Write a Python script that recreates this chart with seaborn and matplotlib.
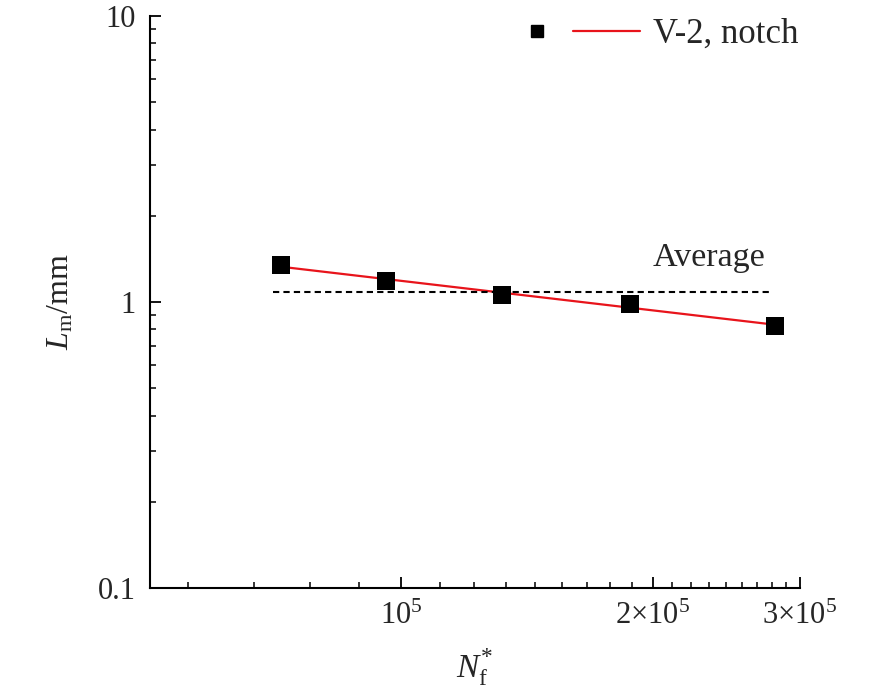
import numpy as np
import matplotlib.pyplot as plt
import seaborn as sns
from matplotlib.ticker import FixedLocator, NullFormatter
from matplotlib.lines import Line2D
from matplotlib.legend_handler import HandlerTuple

# data
nf = [71700, 95960, 132000, 187800, 279800]   # N_f*
lm = [1.343, 1.181, 1.055, 0.984, 0.822]      # L_m (mm)
series_label = "V-2, notch"
xtick_vals = [1e5, 2e5, 3e5]
xtick_text = [r"$10^5$", r"$2{\times}10^5$", r"$3{\times}10^5$"]
ytick_vals = [0.1, 1, 10]
ytick_text = ["0.1", "1", "10"]

sns.set_theme(style="ticks")
plt.rcParams["font.family"] = ["Liberation Serif", "DejaVu Serif"]
plt.rcParams["mathtext.fontset"] = "custom"
plt.rcParams["mathtext.rm"] = "Liberation Serif"
plt.rcParams["mathtext.it"] = "Liberation Serif:italic"

df = {"nf": np.array(nf), "lm": np.array(lm)}
# power law fit in log-log space
k, b = np.polyfit(np.log10(df["nf"]), np.log10(df["lm"]), 1)
fit = 10 ** (k * np.log10(df["nf"]) + b)
avg = np.mean(df["lm"])

fig = plt.figure(figsize=(8.86, 6.9), dpi=100)
ax = fig.add_axes([0.1693, 0.1483, 0.7336, 0.8289])
ax.set_xscale("log")
ax.set_yscale("log")

sns.lineplot(x=df["nf"], y=fit, color="#e8141b", lw=1.6, ax=ax, legend=False)
sns.scatterplot(x=df["nf"], y=df["lm"], marker="s", s=150, color="black",
                edgecolor="black", linewidth=0, ax=ax, legend=False, zorder=3)
ax.hlines(avg, df["nf"][0] * 0.98, df["nf"][-1] * 0.99, colors="black",
          linestyles=(0, (3, 2)), lw=1.5, zorder=2)
ax.text(2e5, 1.42, "Average", fontsize=24.5, ha="left", va="center")

ax.set_xlim(5e4, 3e5)
ax.set_ylim(0.1, 10)
ax.xaxis.set_major_locator(FixedLocator(xtick_vals))
ax.set_xticklabels(xtick_text)
minor_x = [i * 1e5 / 9 for i in range(5, 27) if i % 9 != 0]
ax.xaxis.set_minor_locator(FixedLocator(minor_x))
ax.xaxis.set_minor_formatter(NullFormatter())
ax.yaxis.set_major_locator(FixedLocator(ytick_vals))
ax.set_yticklabels(ytick_text)
minor_y = [m * d for d in (0.1, 1) for m in range(2, 10)]
ax.yaxis.set_minor_locator(FixedLocator(minor_y))
ax.yaxis.set_minor_formatter(NullFormatter())

ax.tick_params(which="major", direction="in", length=8, width=1.3,
               labelsize=22, color="black", pad=10)
ax.tick_params(which="minor", direction="in", length=4.5, width=1.1, color="black")
for side in ("top", "right"):
    ax.spines[side].set_visible(False)
for side in ("left", "bottom"):
    ax.spines[side].set_linewidth(1.5)
    ax.spines[side].set_color("black")

ax.set_xlabel(r"$N_{\mathrm{f}}^{*}$", fontsize=24, labelpad=12)
ax.set_ylabel(r"$L_{\mathrm{m}}$/mm", fontsize=23, labelpad=16)

h_mark = Line2D([], [], marker="s", ms=8, color="black", ls="none")
h_line = Line2D([], [], color="#e8141b", lw=1.6)
ax.legend([(h_mark, h_line)], [series_label], handler_map={tuple: HandlerTuple(ndivide=None, pad=0.05)},
          loc="upper right", bbox_to_anchor=(1.006, 1.005), frameon=False, fontsize=25,
          handlelength=3.95, handletextpad=0.37, borderaxespad=0, borderpad=0.15)

fig.savefig("out.png", dpi=100)
